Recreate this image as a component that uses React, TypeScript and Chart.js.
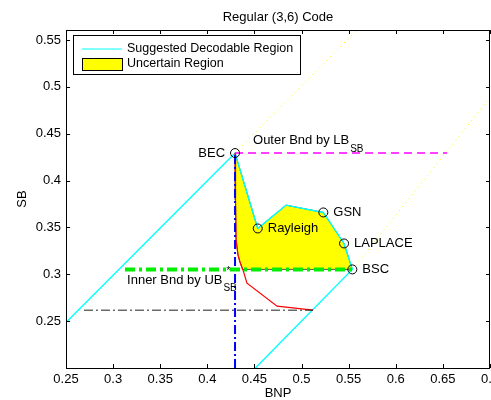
import { useEffect, useRef } from "react";
import { Chart, registerables } from "chart.js";

Chart.register(...registerables);

// Axis ranges and ticks
const X_MIN = 0.25;
const X_MAX = 0.7;
const Y_MIN = 0.2;
const Y_MAX = 0.5607;
const xTickValues = [0.25, 0.3, 0.35, 0.4, 0.45, 0.5, 0.55, 0.6, 0.65, 0.7];
const xTickLabels = ["0.25", "0.3", "0.35", "0.4", "0.45", "0.5", "0.55", "0.6", "0.65", "0.7"];
const yTickValues = [0.25, 0.3, 0.35, 0.4, 0.45, 0.5, 0.55];
const yTickLabels = ["0.25", "0.3", "0.35", "0.4", "0.45", "0.5", "0.55"];

// Channel thresholds (BNP, SB)
const channelNames = ["BEC", "Rayleigh", "GSN", "LAPLACE", "BSC"];
const channelBNP = [0.4294, 0.4535, 0.5231, 0.5451, 0.5539];
const channelSB = [0.4294, 0.3489, 0.366, 0.3329, 0.3052];

// Suggested decodable region boundary
const decodableBNP = [0.25, 0.4294, 0.4535, 0.4835, 0.5231, 0.5451, 0.5539, 0.451];
const decodableSB = [0.2485, 0.4294, 0.3489, 0.3738, 0.366, 0.3329, 0.3052, 0.2];

// Uncertain region (closed polygon)
const uncertainBNP = [0.4294, 0.4535, 0.4835, 0.5231, 0.5451, 0.5539, 0.4375, 0.4347, 0.4326, 0.4305, 0.4299, 0.4294];
const uncertainSB = [0.4294, 0.3489, 0.3738, 0.366, 0.3329, 0.3052, 0.3052, 0.3129, 0.3204, 0.3364, 0.3791, 0.4294];

// Lower boundary curve
const curveBNP = [0.4294, 0.4299, 0.4305, 0.4326, 0.4347, 0.4379, 0.4421, 0.474, 0.5122];
const curveSB = [0.4294, 0.3791, 0.3364, 0.3204, 0.3129, 0.3044, 0.2905, 0.266, 0.2617];

// Extensions beyond BEC and BSC
const becExtBNP = [0.4294, 0.5587];
const becExtSB = [0.4294, 0.5607];
const bscExtBNP = [0.5539, 0.7];
const bscExtSB = [0.3052, 0.4885];

// Bounds
const outerBNP = [0.4294, 0.6545];
const outerSB = [0.4294, 0.4294];
const innerBNP = [0.3126, 0.5539];
const innerSB = [0.3052, 0.3052];
const becVertBNP = [0.4294, 0.4294];
const becVertSB = [0.2, 0.4294];
const lowerBNP = [0.2691, 0.5122];
const lowerSB = [0.2617, 0.2617];

// Bound annotations (anchor positions)
const outerLabelBNP = 0.4485;
const outerLabelSB = 0.4432;
const innerLabelBNP = 0.3148;
const innerLabelSB = 0.2937;

const FONT = "'Liberation Sans', Arial, Helvetica, sans-serif";

const pts = (xs: number[], ys: number[]) => xs.map((x, i) => ({ x, y: ys[i] }));

const overlayPlugin = {
  id: "overlay",
  afterDatasetsDraw(chart: any) {
    const ctx = chart.ctx as CanvasRenderingContext2D;
    const xs = chart.scales.x;
    const ys = chart.scales.y;
    ctx.save();
    ctx.fillStyle = "#000";
    ctx.textBaseline = "middle";
    ctx.font = `13px ${FONT}`;
    channelNames.forEach((name, i) => {
      const px = xs.getPixelForValue(channelBNP[i]);
      const py = ys.getPixelForValue(channelSB[i]);
      if (name === "BEC") {
        ctx.textAlign = "right";
        ctx.fillText(name, px - 10, py);
      } else {
        ctx.textAlign = "left";
        ctx.fillText(name, px + 10, py);
      }
    });

    // Outer bound label
    ctx.textAlign = "left";
    const ox = xs.getPixelForValue(outerLabelBNP);
    const oy = ys.getPixelForValue(outerLabelSB);
    ctx.font = `13px ${FONT}`;
    const outerText = "Outer Bnd by LB";
    ctx.fillText(outerText, ox, oy);
    const ow = ctx.measureText(outerText).width;
    ctx.font = `10px ${FONT}`;
    ctx.fillText("SB", ox + ow + 1, oy + 9);

    // Inner bound label
    const ix = xs.getPixelForValue(innerLabelBNP);
    const iy = ys.getPixelForValue(innerLabelSB);
    ctx.font = `13px ${FONT}`;
    const innerText = "Inner Bnd by UB";
    ctx.fillText(innerText, ix, iy);
    const iw = ctx.measureText(innerText).width;
    ctx.font = `10px ${FONT}`;
    ctx.fillText("*", ix + iw + 4, iy - 9);
    ctx.fillText("SB", ix + iw + 1, iy + 8);
    ctx.restore();
  },
  afterDraw(chart: any) {
    const ctx = chart.ctx as CanvasRenderingContext2D;
    const { left, right, top, bottom } = chart.chartArea;
    const xs = chart.scales.x;
    const ys = chart.scales.y;
    ctx.save();

    // Axes box with inward ticks
    ctx.strokeStyle = "#000";
    ctx.lineWidth = 1;
    ctx.strokeRect(Math.round(left) + 0.5, Math.round(top) + 0.5, Math.round(right - left) - 1, Math.round(bottom - top));
    const tl = 4;
    ctx.beginPath();
    xTickValues.forEach((v) => {
      const px = Math.round(xs.getPixelForValue(v)) + 0.5;
      ctx.moveTo(px, bottom);
      ctx.lineTo(px, bottom - tl);
      ctx.moveTo(px, top);
      ctx.lineTo(px, top + tl);
    });
    yTickValues.forEach((v) => {
      const py = Math.round(ys.getPixelForValue(v)) + 0.5;
      ctx.moveTo(left, py);
      ctx.lineTo(left + tl, py);
      ctx.moveTo(right, py);
      ctx.lineTo(right - tl, py);
    });
    ctx.stroke();

    // Title
    ctx.fillStyle = "#000";
    ctx.font = `13px ${FONT}`;
    ctx.textAlign = "center";
    ctx.textBaseline = "middle";
    ctx.fillText("Regular (3,6) Code", (left + right) / 2, 17);

    // Legend
    const lx = left + 7;
    const ly = top + 5;
    const lw = 227;
    const lh = 39;
    ctx.fillStyle = "#fff";
    ctx.fillRect(lx, ly, lw, lh);
    ctx.strokeStyle = "#000";
    ctx.strokeRect(lx + 0.5, ly + 0.5, lw, lh);
    ctx.strokeStyle = "#00ffff";
    ctx.lineWidth = 1.2;
    ctx.beginPath();
    ctx.moveTo(lx + 9, ly + 14);
    ctx.lineTo(lx + 49, ly + 14);
    ctx.stroke();
    ctx.fillStyle = "#ffff00";
    ctx.fillRect(lx + 9, ly + 23, 40, 12);
    ctx.strokeStyle = "#000";
    ctx.lineWidth = 1;
    ctx.strokeRect(lx + 9.5, ly + 23.5, 40, 12);
    ctx.fillStyle = "#000";
    ctx.font = `12.5px ${FONT}`;
    ctx.textAlign = "left";
    ctx.fillText("Suggested Decodable Region", lx + 54, ly + 14);
    ctx.fillText("Uncertain Region", lx + 54, ly + 29);
    ctx.restore();
  },
};

export default function App() {
  const canvasRef = useRef<HTMLCanvasElement | null>(null);

  useEffect(() => {
    const canvas = canvasRef.current;
    if (!canvas) return;
    const line = (data: any, color: string, width: number, dash: number[], order: number, extra: any = {}) => ({
      data,
      showLine: true,
      borderColor: color,
      borderWidth: width,
      borderDash: dash,
      pointRadius: 0,
      tension: 0,
      fill: false,
      order,
      ...extra,
    });

    const chart = new Chart(canvas, {
      type: "scatter",
      data: {
        datasets: [
          {
            label: "Channels",
            data: pts(channelBNP, channelSB),
            showLine: false,
            pointRadius: 4.5,
            pointBorderWidth: 1,
            pointBorderColor: "#000",
            pointBackgroundColor: "rgba(0,0,0,0)",
            order: 0,
          },
          line(pts(innerBNP, innerSB), "#00ee00", 4, [10, 4, 3, 4], 1),
          line(pts(becVertBNP, becVertSB), "#0000ff", 2, [9, 3, 2, 3], 2),
          line(pts(outerBNP, outerSB), "#ff00ff", 1.5, [8, 5], 3),
          line(pts(lowerBNP, lowerSB), "#222", 1, [9, 3, 2, 3], 4),
          line(pts(curveBNP, curveSB), "#ff0000", 1.2, [], 5),
          line(pts(decodableBNP, decodableSB), "#00ffff", 1.4, [], 6),
          line(pts(becExtBNP, becExtSB), "#ffff00", 1, [1.2, 3.8], 7),
          line(pts(bscExtBNP, bscExtSB), "#ffff00", 1, [1.2, 3.8], 8),
          line(pts(uncertainBNP, uncertainSB), "#555", 1, [], 9, {
            fill: "shape",
            backgroundColor: "#ffff00",
          }),
        ],
      },
      options: {
        animation: false,
        responsive: false,
        devicePixelRatio: 1,
        layout: { autoPadding: false, padding: { left: 0, right: 1, top: 30, bottom: 0 } },
        plugins: {
          legend: { display: false },
          title: { display: false },
          tooltip: { enabled: false },
        },
        scales: {
          x: {
            type: "linear",
            min: X_MIN,
            max: X_MAX,
            grid: { display: false, drawTicks: false },
            border: { display: false },
            afterBuildTicks: (s: any) => {
              s.ticks = xTickValues.map((v) => ({ value: v }));
            },
            afterFit: (s: any) => {
              s.height = 32;
              s.paddingLeft = 0;
              s.paddingRight = 0;
            },
            ticks: {
              autoSkip: false,
              maxRotation: 0,
              padding: 4,
              color: "#000",
              font: { family: FONT, size: 13 },
              callback: (_v: any, i: number) => xTickLabels[i],
            },
            title: {
              display: true,
              text: "BNP",
              color: "#000",
              font: { family: FONT, size: 13 },
              padding: { top: 0, bottom: -1 },
            },
          },
          y: {
            type: "linear",
            min: Y_MIN,
            max: Y_MAX,
            grid: { display: false, drawTicks: false },
            border: { display: false },
            afterBuildTicks: (s: any) => {
              s.ticks = yTickValues.map((v) => ({ value: v }));
            },
            afterFit: (s: any) => {
              s.width = 66;
              s.paddingTop = 0;
              s.paddingBottom = 0;
            },
            ticks: {
              padding: 5,
              color: "#000",
              font: { family: FONT, size: 13 },
              callback: (_v: any, i: number) => yTickLabels[i],
            },
            title: {
              display: true,
              text: "SB",
              color: "#000",
              font: { family: FONT, size: 13 },
              padding: { top: 15, bottom: 0 },
            },
          },
        },
      },
      plugins: [overlayPlugin],
    } as any);

    return () => chart.destroy();
  }, []);

  return (
    <div style={{ position: "absolute", left: 0, top: 0, width: 491, height: 400, background: "#fff" }}>
      <canvas ref={canvasRef} width={491} height={400} style={{ display: "block" }} />
    </div>
  );
}
